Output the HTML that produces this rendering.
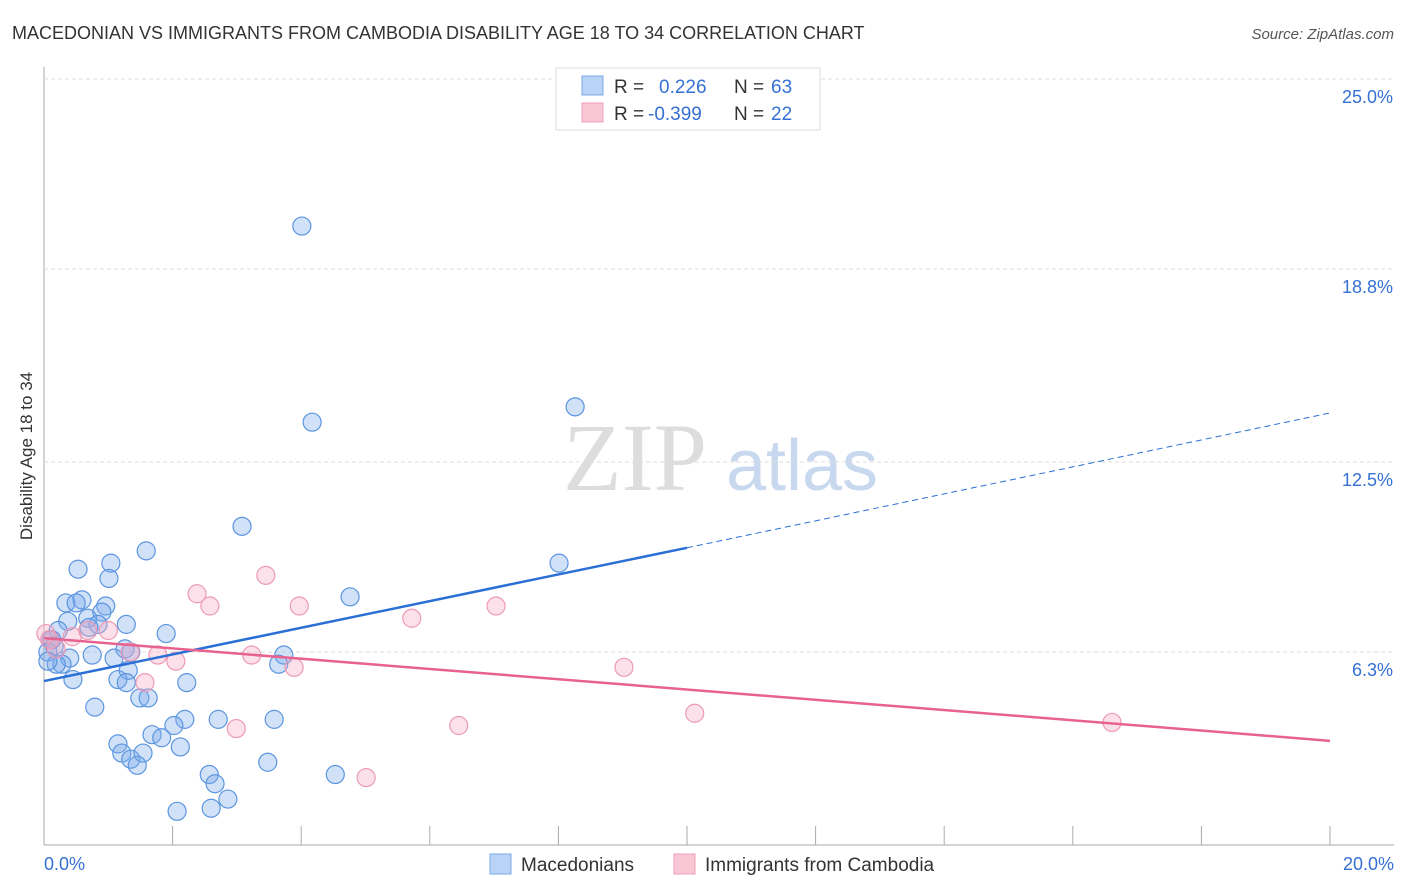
<!DOCTYPE html>
<html><head><meta charset="utf-8"><style>
body{margin:0;background:#fff;font-family:"Liberation Sans",sans-serif;}
svg{display:block}
</style></head><body>
<svg id="c" width="1406" height="892" xmlns="http://www.w3.org/2000/svg">
<text x="12" y="39" font-size="18" fill="#333">MACEDONIAN VS IMMIGRANTS FROM CAMBODIA DISABILITY AGE 18 TO 34 CORRELATION CHART</text>
<text x="1394" y="39" font-size="15" fill="#555" font-style="italic" text-anchor="end">Source: ZipAtlas.com</text>
<text x="32" y="456" font-size="17" fill="#333" text-anchor="middle" transform="rotate(-90 32 456)">Disability Age 18 to 34</text>
<g id="wm"><text x="635" y="490" font-size="96" fill="#ddd" font-family="Liberation Serif" text-anchor="middle">ZIP</text><text x="802" y="490" font-size="72" fill="#c8d8ee" text-anchor="middle">atlas</text></g>
<g id="grid"></g><g id="marks"></g>
<g>
<rect x="556" y="68" width="264" height="62" fill="#fff" stroke="#ddd"/>
<rect x="582" y="76" width="21" height="19" fill="#b8d3f5" stroke="#7aa8e8"/>
<rect x="582" y="103" width="21" height="19" fill="#f9c6d6" stroke="#eea0b8"/>
<text x="614" y="93" font-size="19" fill="#333">R =</text><text x="659" y="93" font-size="19" fill="#3570d4">0.226</text>
<text x="734" y="93" font-size="19" fill="#333">N =</text><text x="771" y="93" font-size="19" fill="#3570d4">63</text>
<text x="614" y="120" font-size="19" fill="#333">R =</text><text x="648" y="120" font-size="19" fill="#3570d4">-0.399</text>
<text x="734" y="120" font-size="19" fill="#333">N =</text><text x="771" y="120" font-size="19" fill="#3570d4">22</text>
</g>
<g>
<rect x="490" y="854" width="21" height="20" fill="#b8d3f5" stroke="#7aa8e8"/>
<text x="521" y="871" font-size="19" fill="#333">Macedonians</text>
<rect x="674" y="854" width="21" height="20" fill="#f9c6d6" stroke="#eea0b8"/>
<text x="705" y="871" font-size="19" fill="#333">Immigrants from Cambodia</text>
</g>
</svg>
<script>
const yTicks=[6.3,12.5,18.8,25.0];
const yTickLabels=["6.3%","12.5%","18.8%","25.0%"];
const xTickCount=[0,2,4,6,8,10,12,14,16,18,20];
const xLabels=["0.0%","20.0%"];
const blueX=[4.01,8.26,4.17,3.08,1.59,1.04,0.53,8.01,1.01,4.76,0.59,0.34,0.50,0.96,0.68,0.90,0.37,0.84,1.28,0.70,1.90,0.22,0.09,0.16,1.26,0.06,1.35,0.40,0.75,1.09,3.73,3.65,0.28,0.19,1.31,0.45,1.15,1.28,2.22,1.49,1.62,0.79,2.71,2.19,2.02,3.58,1.68,1.15,1.83,2.12,1.21,1.35,1.54,1.45,3.48,4.53,2.57,2.66,2.86,2.07,2.60,0.06,0.12];
const blueY=[20.2,14.3,13.8,10.4,9.6,9.2,9.0,9.2,8.7,8.1,8.0,7.9,7.9,7.8,7.4,7.6,7.3,7.2,7.2,7.1,6.9,7.0,6.7,6.5,6.4,6.3,6.3,6.1,6.2,6.1,6.2,5.9,5.9,5.9,5.7,5.4,5.4,5.3,5.3,4.8,4.8,4.5,4.1,4.1,3.9,4.1,3.6,3.3,3.5,3.2,3.0,2.8,3.0,2.6,2.7,2.3,2.3,2.0,1.5,1.1,1.2,6.0,6.7];
const pinkX=[0.03,0.09,0.19,0.44,0.68,1.00,1.34,1.77,2.05,1.57,2.38,2.58,3.45,3.97,5.72,7.03,3.23,3.89,2.99,6.45,5.01,9.02,10.12,16.61];
const pinkY=[6.9,6.7,6.4,6.8,7.0,7.0,6.3,6.2,6.0,5.3,8.2,7.8,8.8,7.8,7.4,7.8,6.2,5.8,3.8,3.9,2.2,5.8,4.3,4.0];
const blueTrend=[[0,5.35],[10,9.7]];const blueTrendExt=[10,20,14.1];
const pinkTrend=[[0,6.75],[20,3.4]];
const NS="http://www.w3.org/2000/svg";
const X=v=>44+v*64.3, Y=v=>845-v*30.64;
function el(t,a,p){const e=document.createElementNS(NS,t);for(const k in a)e.setAttribute(k,a[k]);p.appendChild(e);return e;}
const g=document.getElementById('grid'),m=document.getElementById('marks');
el('line',{x1:44,y1:67,x2:44,y2:845,stroke:'#aaa'},g);
el('line',{x1:44,y1:845,x2:1394,y2:845,stroke:'#aaa'},g);
el('line',{x1:44,y1:Y(25),x2:1394,y2:Y(25),stroke:'#ddd','stroke-dasharray':'4 3'},g);
yTicks.forEach((v,i)=>{
 const l=el('line',{x1:44,y1:Y(v),x2:1394,y2:Y(v),stroke:'#ddd','stroke-dasharray':'4 3'},g);
 
 
 const t=el('text',{x:1393,y:Y(v)+24,'font-size':18,fill:'#3570d4','text-anchor':'end'},g);
 t.textContent=yTickLabels[i];
 
 
});
xTickCount.forEach(v=>{if(v>0){const l=el('line',{x1:X(v),y1:826,x2:X(v),y2:845,stroke:'#aaa'},g);
 
 }});
[[0,'start',44],[20,'end',1394]].forEach((a,i)=>{const t=el('text',{x:a[2],y:870,'font-size':18,fill:'#3570d4','text-anchor':a[1]},g);t.textContent=xLabels[i];
 
 });
blueX.forEach((v,i)=>{const c=el('circle',{cx:X(v),cy:Y(blueY[i]),r:9,fill:'rgba(120,170,235,0.35)',stroke:'#5b95e0','stroke-width':1.2},m);
 
 });
pinkX.forEach((v,i)=>{const c=el('circle',{cx:X(v),cy:Y(pinkY[i]),r:9,fill:'rgba(245,170,195,0.35)',stroke:'#ec9ab5','stroke-width':1.2},m);
 
 });
let l=el('line',{x1:X(blueTrend[0][0]),y1:Y(blueTrend[0][1]),x2:X(blueTrend[1][0]),y2:Y(blueTrend[1][1]),stroke:'#2a6fd6','stroke-width':2.5},m);


l=el('line',{x1:X(blueTrendExt[0]),y1:Y(blueTrend[1][1]),x2:X(blueTrendExt[1]),y2:Y(blueTrendExt[2]),stroke:'#2a6fd6','stroke-width':1,'stroke-dasharray':'6 4'},m);


l=el('line',{x1:X(pinkTrend[0][0]),y1:Y(pinkTrend[0][1]),x2:X(pinkTrend[1][0]),y2:Y(pinkTrend[1][1]),stroke:'#e8628f','stroke-width':2.5},m);


</script>
</body></html>
